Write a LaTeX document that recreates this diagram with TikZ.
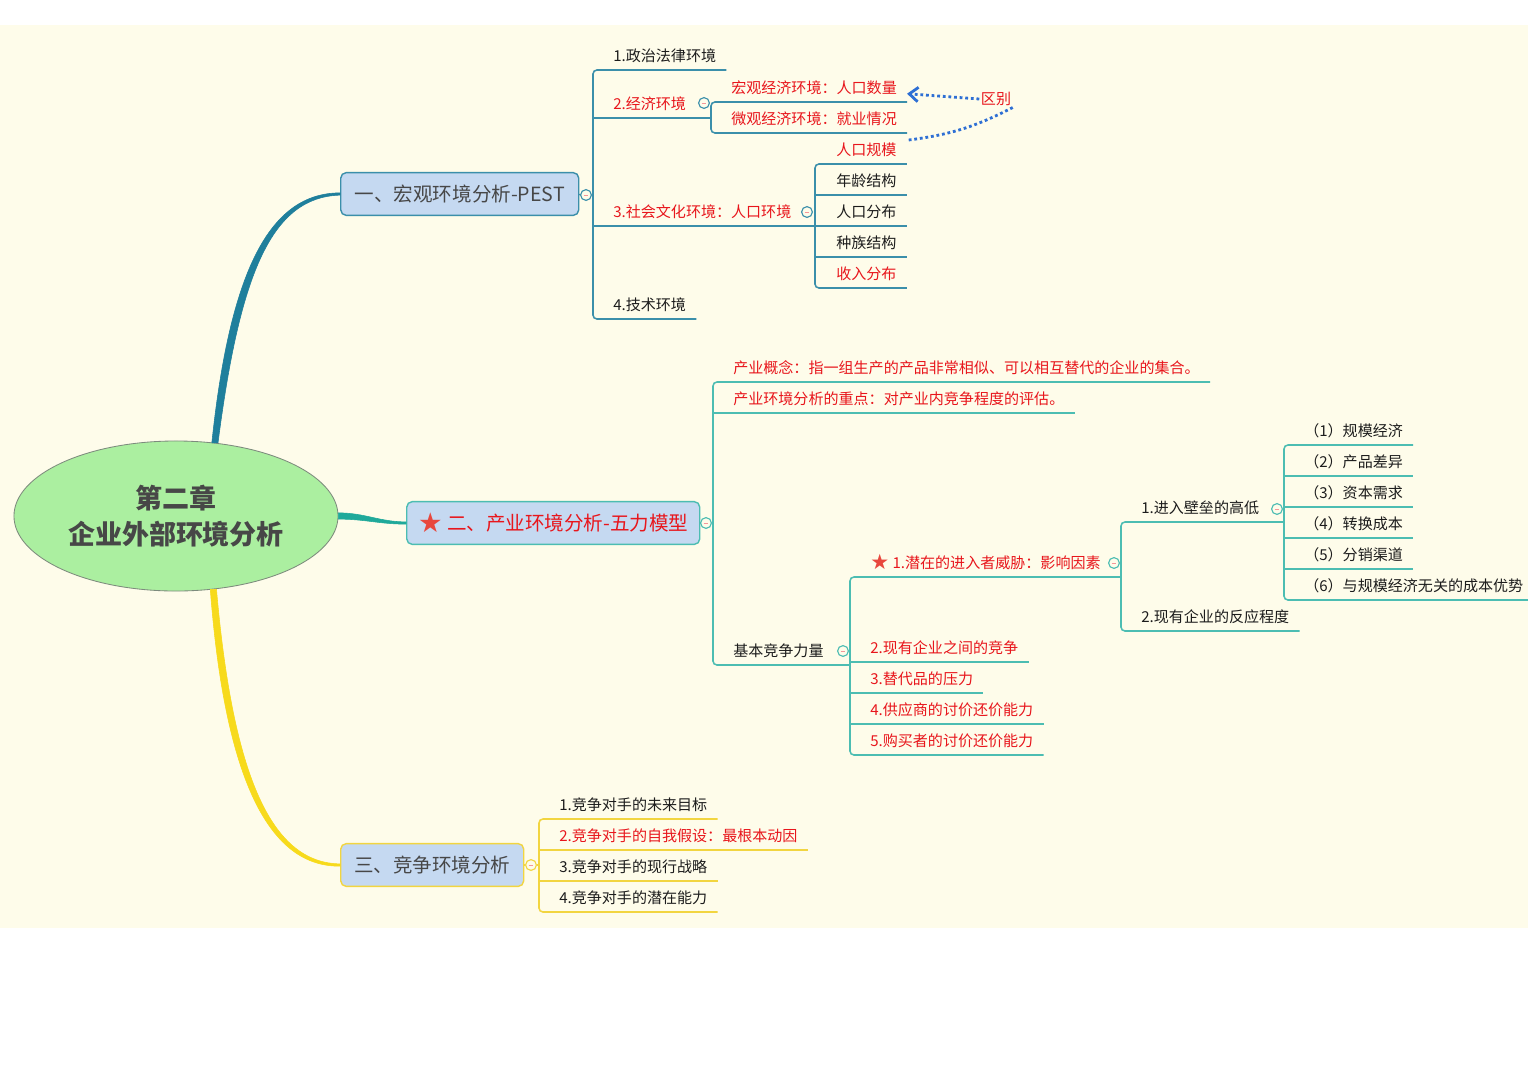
\documentclass[tikz,border=0pt]{standalone}
\usepackage{graphicx}
\usepackage{fontspec}
\setmainfont{Noto Sans CJK SC}
\newfontfamily\starfont{DejaVu Sans}
\usetikzlibrary{arrows.meta,shapes.geometric}
\definecolor{paperCream}{HTML}{FEFCEA}
\definecolor{rootGreen}{HTML}{ABEFA0}
\definecolor{rootEdge}{HTML}{7D8B7D}
\definecolor{rootText}{HTML}{474747}
\definecolor{boxBlue}{HTML}{C5D9F1}
\definecolor{pestTeal}{HTML}{1F7F9C}
\definecolor{pestLine}{HTML}{3B8FAA}
\definecolor{fiveTeal}{HTML}{1FA99A}
\definecolor{fiveLine}{HTML}{4CBDB2}
\definecolor{rivalYellow}{HTML}{F7DA1C}
\definecolor{rivalLine}{HTML}{F2D540}
\definecolor{hotRed}{HTML}{E8161C}
\definecolor{starRed}{HTML}{E8473D}
\definecolor{inkDark}{HTML}{1C1C1C}
\definecolor{diffBlue}{HTML}{2E6FD4}
\tikzset{
  leaf node/.style={anchor=south west,inner xsep=0.25cm,inner ysep=0.1625cm,
    text height=0.33cm,text depth=0.045cm,text=inkDark,
    font=\fontsize{10.7}{12}\selectfont},
  hot node/.style={leaf node,text=hotRed},
  topic node/.style={anchor=west,rounded corners=4pt,fill=boxBlue,line width=1pt,
    minimum height=1.07cm,text=rootText,font=\fontsize{13.9}{16}\selectfont},
  fold mark/.style={circle,draw,fill=paperCream,line width=0.8pt,minimum size=0.27cm,
    inner sep=0pt,path picture={\draw[hotRed!45,line width=0.5pt]
      ([xshift=-0.06cm]path picture bounding box.center) --
      ([xshift=0.06cm]path picture bounding box.center);}},
  branch line/.style={line width=1.1pt,rounded corners=2.8pt},
  root link/.style={line width=0.4pt,line join=round},
  diff line/.style={draw=diffBlue,line width=2pt,dash pattern=on 2pt off 2pt}
}
\newcommand{\redstar}{\raisebox{-0.1em}{\scalebox{1.4}{\starfont\color{starRed}★}}}

\begin{document}
\begin{tikzpicture}[x=0.025cm,y=-0.025cm]
  \useasboundingbox (0,0) rectangle (1528,1080);
  \fill[white] (0,0) rectangle (1528,1080);
  \fill[paperCream] (0,25) rectangle (1528,928);

  % root
  \node[ellipse,draw=rootEdge,fill=rootGreen,line width=0.6pt,minimum width=8.1cm,
    minimum height=3.75cm,inner sep=0pt,align=center,text=rootText,
    font=\fontsize{19.2}{25.6}\selectfont\bfseries] (root) at (176,516)
    {第二章\\企业外部环境分析};

  % one: PEST
  \node[topic node,draw=pestLine,minimum width=5.95cm] (pest) at (340,194)
    {一、宏观环境分析-PEST};
  \node[fold mark,draw=pestLine] (c1) at (586,195) {};
  \coordinate (t1) at (593,195);
  \node[leaf node] (a1) at (603,70) {1.政治法律环境};
  \node[hot node] (a2) at (603,118) {2.经济环境};
  \node[fold mark,draw=pestLine] (c2) at (704,103) {};
  \coordinate (t2) at (711,118);
  \node[hot node] (m1) at (721,102) {宏观经济环境：人口数量};
  \node[hot node] (m2) at (721,133) {微观经济环境：就业情况};
  \node[hot node] (a3) at (603,226) {3.社会文化环境：人口环境};
  \node[fold mark,draw=pestLine] (c3) at (807,212) {};
  \coordinate (t3) at (815,226);
  \node[hot node] (s1) at (826,164) {人口规模};
  \node[leaf node] (s2) at (826,195) {年龄结构};
  \node[leaf node] (s3) at (826,226) {人口分布};
  \node[leaf node] (s4) at (826,257) {种族结构};
  \node[hot node] (s5) at (826,288) {收入分布};
  \node[leaf node] (a4) at (603,319) {4.技术环境};
  \node[text=hotRed,font=\fontsize{10.7}{12}\selectfont,inner sep=1pt] (diff)
    at (996,99) {区别};

  \filldraw[root link,pestTeal] ([xshift=-2.2pt]root.62) .. controls (230,270) and (270,193)
    .. ([yshift=0.8pt]pest.west) -- ([yshift=-0.8pt]pest.west)
    .. controls (272,197) and (240,272) .. ([xshift=2.2pt]root.62) -- cycle;
  \begin{scope}[branch line,color=pestLine]
    \draw (pest.east) -- (c1.west);
    \draw (c1.east) -- (t1);
    \draw (a1.south east) -| (t1) |- (a4.south east);
    \draw (t1 |- a2.south) -- (t2);
    \draw (t1 |- a3.south) -- (t3);
    \draw (m1.south east) -| (t2) |- (m2.south east);
    \draw (s1.south east) -| (t3) |- (s5.south east);
    \draw (t3 |- s2.south) -- (s2.south east);
    \draw (t3) -- (s3.south east);
    \draw (t3 |- s4.south) -- (s4.south east);
  \end{scope}
  \draw[diff line,-{Straight Barb[length=0.22cm,width=0.36cm]}] (diff.west)
    -- ([yshift=-0.15cm]m1.east);
  \draw[diff line] (diff.south east) to[bend left=10] ([yshift=-0.18cm]m2.south east);

  % two: five forces
  \node[topic node,draw=fiveLine,text=hotRed,minimum width=7.325cm] (five) at (406,523)
    {\redstar{} 二、产业环境分析-五力模型};
  \node[fold mark,draw=fiveLine] (c4) at (706,523) {};
  \coordinate (t4) at (713,523);
  \node[hot node] (p1) at (723,382)
    {产业概念：指一组生产的产品非常相似、可以相互替代的企业的集合。};
  \node[hot node] (p2) at (723,413) {产业环境分析的重点：对产业内竞争程度的评估。};
  \node[leaf node] (p3) at (723,665) {基本竞争力量};
  \node[fold mark,draw=fiveLine] (c5) at (843,651) {};
  \coordinate (t5) at (850,665);
  \node[hot node] (f1) at (860,577) {\redstar{} 1.潜在的进入者威胁：影响因素};
  \node[fold mark,draw=fiveLine] (c6) at (1114,563) {};
  \coordinate (t6) at (1121,577);
  \node[leaf node] (e1) at (1131,522) {1.进入壁垒的高低};
  \node[fold mark,draw=fiveLine] (c7) at (1277,509) {};
  \coordinate (t7) at (1284,522);
  \node[leaf node] (g1) at (1294,445) {（1）规模经济};
  \node[leaf node] (g2) at (1294,476) {（2）产品差异};
  \node[leaf node] (g3) at (1294,507) {（3）资本需求};
  \node[leaf node] (g4) at (1294,538) {（4）转换成本};
  \node[leaf node] (g5) at (1294,569) {（5）分销渠道};
  \node[leaf node] (g6) at (1294,600) {（6）与规模经济无关的成本优势};
  \node[leaf node] (e2) at (1131,631) {2.现有企业的反应程度};
  \node[hot node] (f2) at (860,662) {2.现有企业之间的竞争};
  \node[hot node] (f3) at (860,693) {3.替代品的压力};
  \node[hot node] (f4) at (860,724) {4.供应商的讨价还价能力};
  \node[hot node] (f5) at (860,755) {5.购买者的讨价还价能力};

  \filldraw[root link,fiveTeal] ([yshift=2.2pt]root.east) to[out=0,in=180]
    ([yshift=0.8pt]five.west) -- ([yshift=-0.8pt]five.west) to[out=180,in=0]
    ([yshift=-2.2pt]root.east) -- cycle;
  \begin{scope}[branch line,color=fiveLine]
    \draw (five.east) -- (c4.west);
    \draw (c4.east) -- (t4);
    \draw (p1.south east) -| (t4) |- (t5);
    \draw (t4 |- p2.south) -- (p2.south east);
    \draw (t6) -| (t5) |- (f5.south east);
    \draw (t5 |- f2.south) -- (f2.south east);
    \draw (t5 |- f3.south) -- (f3.south east);
    \draw (t5 |- f4.south) -- (f4.south east);
    \draw (t7) -| (t6) |- (e2.south east);
    \draw (g1.south east) -| (t7) |- (g6.south east);
    \draw (t7 |- g2.south) -- (g2.south east);
    \draw (t7 |- g3.south) -- (g3.south east);
    \draw (t7 |- g4.south) -- (g4.south east);
    \draw (t7 |- g5.south) -- (g5.south east);
  \end{scope}

  % three: rivals
  \node[topic node,draw=rivalLine,minimum width=4.575cm] (rival) at (340,865)
    {三、竞争环境分析};
  \node[fold mark,draw=rivalLine] (c8) at (531,865) {};
  \coordinate (t8) at (539,865);
  \node[leaf node] (r1) at (549,819) {1.竞争对手的未来目标};
  \node[hot node] (r2) at (549,850) {2.竞争对手的自我假设：最根本动因};
  \node[leaf node] (r3) at (549,881) {3.竞争对手的现行战略};
  \node[leaf node] (r4) at (549,912) {4.竞争对手的潜在能力};

  \filldraw[root link,rivalYellow] ([xshift=-2.2pt]root.-63) .. controls (225,782) and (270,867)
    .. ([yshift=-0.8pt]rival.west) -- ([yshift=0.8pt]rival.west)
    .. controls (272,863) and (233,778) .. ([xshift=2.2pt]root.-63) -- cycle;
  \begin{scope}[branch line,color=rivalLine]
    \draw (rival.east) -- (c8.west);
    \draw (c8.east) -- (t8);
    \draw (r1.south east) -| (t8) |- (r4.south east);
    \draw (t8 |- r2.south) -- (r2.south east);
    \draw (t8 |- r3.south) -- (r3.south east);
  \end{scope}
\end{tikzpicture}
\end{document}
